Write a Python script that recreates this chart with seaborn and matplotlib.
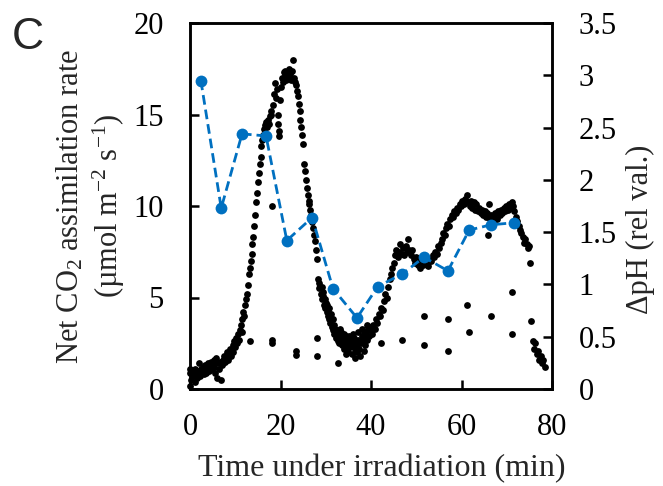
import numpy as np
import pandas as pd
import matplotlib
matplotlib.use("Agg")
import matplotlib.pyplot as plt
import seaborn as sns

# ---------------- data ----------------
# Net CO2 assimilation (black dots): time (min) and rate
seg_a_t = [0.0, 0.0, 0.0, 0.2, 0.4, 0.6, 0.8, 1.0, 1.2, 1.4, 1.6, 1.8, 2.0, 2.2, 2.4, 2.6, 2.8,
           3.0, 3.2, 3.4, 3.6, 3.8, 4.0, 4.2, 4.4, 4.6, 4.8, 5.0, 5.2, 5.4, 5.6, 5.8,
           6.0, 6.2, 6.4, 6.6, 6.8, 7.0, 7.2, 7.4, 7.6, 7.8, 8.0, 8.2, 8.4, 8.6, 8.8,
           9.0, 9.2, 9.4, 9.6, 9.8, 10.0]
seg_a_v = [0.9, 0.15, 1.1, 0.5, 1.0, 0.7, 0.9, 0.4, 1.1, 0.8, 0.6, 1.0, 1.4, 0.7, 1.1, 0.9, 1.2,
           0.8, 1.0, 1.3, 0.9, 1.1, 1.4, 1.0, 1.2, 1.5, 1.1, 1.3, 1.6, 1.2, 0.9, 1.7,
           0.6, 1.4, 1.1, 1.5, 0.5, 1.3, 1.6, 1.4, 1.8, 1.5, 1.7, 2.0, 1.6, 1.9, 2.2,
           1.8, 2.1, 2.4, 2.0, 2.6, 2.3]

seg_b_t = [10.2, 10.4, 10.6, 10.8, 11.0, 11.2, 11.4, 11.6, 11.8, 12.0, 12.2, 12.4, 12.6, 12.8,
           13.0, 13.2, 13.4, 13.6, 13.8, 14.0, 14.2, 14.4, 14.6, 14.8, 15.0, 15.2, 15.4, 15.6,
           15.8, 16.0, 16.2, 16.4, 16.6, 16.8, 17.0, 17.2, 17.4, 17.6, 17.8, 18.0, 18.3, 18.6,
           18.8, 19.0, 19.2, 19.4, 19.5, 19.6, 19.7, 19.9, 20.1, 20.3, 20.5, 20.7, 20.9, 21.1,
           21.3, 21.5, 21.7, 21.9, 22.1, 22.3, 22.5, 22.8, 23.0]
seg_b_v = [2.8, 2.5, 3.0, 2.7, 3.2, 3.5, 3.1, 3.8, 4.2, 4.0, 4.6, 4.9, 5.2, 5.7,
           6.3, 6.6, 7.0, 7.4, 7.9, 8.3, 8.9, 9.5, 10.2, 10.7, 11.3, 11.8, 12.3, 12.7,
           13.3, 13.6, 13.9, 14.2, 14.4, 14.6, 14.3, 14.7, 14.5, 14.9, 15.2, 15.0, 15.5, 16.1,
           16.7, 15.9, 16.4, 15.0, 14.5, 14.1, 13.8, 15.8, 16.5, 17.0, 16.8, 17.3, 17.1, 17.4,
           16.9, 17.3, 17.1, 17.5, 17.2, 16.9, 17.4, 18.0, 17.0]

seg_c_t = [23.2, 23.4, 23.6, 23.8, 24.0, 24.2, 24.4, 24.6, 24.8, 25.0, 25.2, 25.4, 25.6, 25.8,
           26.0, 26.2, 26.4, 26.6, 26.8, 27.0, 27.2, 27.4, 27.6, 27.8, 28.0, 28.2, 28.4, 28.6,
           28.8, 29.0, 29.2, 29.4, 29.6, 29.8, 30.0, 30.2, 30.4, 30.6, 30.8, 31.0, 31.2, 31.4,
           29.1, 29.5, 29.9, 30.3, 30.7, 31.1, 31.5, 31.9]
seg_c_v = [16.8, 16.6, 16.3, 16.0, 15.6, 15.2, 14.7, 14.3, 13.9, 13.4, 12.3, 11.9, 11.4, 11.0,
           10.6, 10.3, 10.1, 9.8, 9.5, 9.1, 8.8, 8.4, 8.1, 7.6, 7.1, 6.0, 5.8, 5.5,
           5.6, 5.2, 4.9, 5.1, 4.6, 4.4, 4.7, 4.2, 4.0, 4.3, 3.8, 3.6, 3.9, 3.4,
           5.6, 5.3, 4.9, 4.6, 4.4, 4.1, 3.8, 3.5]

seg_d_t = [31.6, 31.8, 32.0, 32.2, 32.4, 32.6, 32.8, 33.0, 33.2, 33.4, 33.6, 33.8, 34.0, 34.2,
           34.4, 34.6, 34.8, 35.0, 35.2, 35.4, 35.6, 35.8, 36.0, 36.2, 36.4, 36.6, 36.8, 37.0,
           37.2, 37.4, 37.6, 37.8, 38.0, 38.2, 38.4, 38.6, 38.8, 39.0, 39.2, 39.4, 39.6, 39.8,
           33.1, 34.1, 35.1, 36.1, 37.1, 38.1, 39.1, 34.5, 36.5, 38.5]
seg_d_v = [3.2, 3.0, 3.3, 2.8, 3.1, 2.6, 2.9, 2.5, 2.8, 3.1, 2.4, 2.7, 2.2, 2.6,
           2.9, 2.3, 2.5, 2.0, 2.7, 2.3, 2.5, 1.9, 2.4, 2.8, 2.2, 2.6, 2.0, 2.4,
           2.7, 2.2, 1.8, 2.5, 2.9, 2.6, 3.0, 2.4, 2.8, 3.1, 2.7, 3.3, 2.9, 3.4,
           3.3, 3.0, 2.9, 3.0, 3.1, 3.3, 3.5, 1.9, 1.7, 2.1]

seg_e_t = [39.9, 40.2, 40.5, 40.8, 41.1, 41.4, 41.7, 42.0, 42.3, 42.6, 42.9, 43.2, 43.5, 43.8,
           44.1, 44.4, 44.7, 45.0, 45.3, 45.6, 45.9, 46.2, 46.5, 46.8, 47.1, 47.4, 47.7, 48.0,
           48.2, 48.5, 48.8, 49.1, 49.4, 49.7, 50.0, 50.3, 50.6, 50.9, 51.2, 51.5, 51.8, 52.1,
           52.4, 52.7, 53.0, 53.3, 53.6, 53.9, 54.2, 54.5, 54.8, 55.1, 55.4, 55.7, 56.0, 56.3,
           56.6, 56.9, 57.2, 57.5, 57.8, 58.1, 58.4, 58.7, 59.0, 59.3, 59.6, 59.9, 60.2, 60.5,
           60.8, 61.2, 61.5]
seg_e_v = [3.2, 3.0, 3.5, 3.3, 3.8, 3.6, 4.1, 4.0, 4.4, 4.3, 4.8, 5.2, 5.0, 5.6,
           6.0, 6.3, 6.6, 6.9, 7.3, 7.6, 7.2, 7.5, 7.9, 7.4, 7.7, 7.3, 7.8, 7.5,
           8.2, 7.6, 7.3, 7.6, 7.1, 6.9, 7.2, 6.8, 7.0, 6.6, 7.1, 6.8, 7.2, 6.9,
           7.0, 6.7, 7.1, 7.0, 7.3, 7.2, 7.5, 7.4, 7.8, 7.7, 8.0, 8.2, 8.5, 8.4,
           8.8, 9.0, 8.9, 9.3, 9.5, 9.4, 9.7, 9.6, 9.9, 9.8, 10.1, 10.0, 10.3, 10.1,
           10.4, 10.6, 10.2]

seg_f_t = [61.8, 62.1, 62.4, 62.7, 63.0, 63.3, 63.6, 63.9, 64.2, 64.5, 64.8, 65.1, 65.4, 65.7,
           66.0, 66.3, 66.6, 66.9, 67.2, 67.5, 67.8, 68.1, 68.4, 68.7, 69.0, 69.3, 69.6, 69.9,
           70.2, 70.5, 70.8, 71.1, 71.4, 71.7, 72.0, 72.3, 72.6, 72.9, 73.2, 73.5, 73.8, 74.1,
           74.4, 74.7, 75.0, 75.8, 76.0, 76.3, 76.6, 76.9, 77.2, 77.5, 77.8, 78.1, 78.4]
seg_f_v = [10.0, 10.3, 9.9, 10.2, 9.8, 10.1, 9.7, 9.9, 9.6, 9.8, 9.5, 9.7, 9.4, 9.6,
           10.1, 9.3, 9.5, 9.2, 9.4, 9.6, 9.3, 9.7, 9.5, 9.8, 9.6, 9.9, 9.7, 10.0,
           9.8, 10.1, 9.9, 10.2, 10.0, 9.7, 9.4, 9.2, 8.9, 8.7, 8.5, 8.3, 8.0, 8.2,
           7.9, 7.7, 7.8, 2.6, 2.2, 2.5, 1.9, 2.1, 1.6, 1.8, 1.4, 1.6, 1.2]

# isolated low readings
outlier_t = [13.3, 18.1, 18.1, 18.1, 23.4, 23.4, 28.0, 28.0, 32.7, 42.3, 46.9, 51.7, 51.7,
             57.0, 57.0, 61.2, 61.7, 65.9, 66.5, 71.2, 71.2, 75.1, 75.4]
outlier_v = [2.6, 2.7, 2.5, 10.0, 2.1, 1.85, 2.8, 1.8, 1.4, 2.5, 2.7, 4.0, 2.4,
             3.8, 2.1, 4.6, 3.1, 8.4, 4.0, 5.3, 3.0, 6.9, 3.7]

# delta pH (blue dashed, right axis)
ph_time = [2.4, 6.9, 11.5, 16.8, 21.4, 27.0, 31.6, 36.9, 41.5, 46.9, 51.7, 57.0, 61.7, 66.5, 71.6]
ph_value = [2.95, 1.73, 2.44, 2.42, 1.42, 1.64, 0.96, 0.68, 0.98, 1.10, 1.26, 1.13, 1.52, 1.57, 1.59]

x_ticks = [0, 20, 40, 60, 80]
left_ticks = [0, 5, 10, 15, 20]
right_ticks = [0, 0.5, 1, 1.5, 2, 2.5, 3, 3.5]
right_tick_labels = ["0", "0.5", "1", "1.5", "2", "2.5", "3", "3.5"]

# ---------------- plot ----------------
sns.set_style("ticks")
plt.rcParams["font.family"] = ["Liberation Serif", "DejaVu Serif"]
plt.rcParams["mathtext.fontset"] = "custom"
plt.rcParams["mathtext.rm"] = "Liberation Serif"
plt.rcParams["mathtext.it"] = "Liberation Serif:italic"
plt.rcParams["mathtext.default"] = "regular"

co2 = pd.DataFrame({
    "t": seg_a_t + seg_b_t + seg_c_t + seg_d_t + seg_e_t + seg_f_t + outlier_t,
    "v": seg_a_v + seg_b_v + seg_c_v + seg_d_v + seg_e_v + seg_f_v + outlier_v,
})
ph = pd.DataFrame({"t": ph_time, "v": ph_value})

fig = plt.figure(figsize=(6.63, 4.86), dpi=100)
ax = fig.add_axes([190 / 663, 1 - 389 / 486, 362 / 663, 366 / 486])

sns.scatterplot(data=co2, x="t", y="v", ax=ax, color="black", s=24,
                linewidth=0, clip_on=False, zorder=3)

ax2 = ax.twinx()
blue = "#0070C0"
sns.lineplot(data=ph, x="t", y="v", ax=ax2, color=blue, sort=False, estimator=None,
             linestyle=(0, (3.5, 1.8)), linewidth=2.0, marker="o", markersize=8.5,
             markeredgewidth=0, zorder=4)

ax.set_xlim(0, 80)
ax.set_ylim(0, 20)
ax2.set_ylim(0, 3.5)
ax.set_xticks(x_ticks)
ax.set_yticks(left_ticks)
ax2.set_yticks(right_ticks)
ax2.set_yticklabels(right_tick_labels)

fs = 22
for a in (ax, ax2):
    for sp in a.spines.values():
        sp.set_linewidth(1.8)
        sp.set_color("black")
ax.tick_params(axis="both", direction="in", length=6.5, width=1.8, labelsize=fs,
               colors="black")
ax.tick_params(axis="y", pad=19)
ax.tick_params(axis="x", pad=17)
ax2.tick_params(axis="y", direction="in", length=6.5, width=1.8, labelsize=fs, pad=19,
                colors="black")

ax.set_xlabel("Time under irradiation (min)", fontsize=23)
ax.xaxis.set_label_coords(0.53, -0.178)
ax.set_ylabel("Net CO$_2$ assimilation rate\n(µmol m$^{-2}$ s$^{-1}$)", fontsize=fs,
              linespacing=1.2)
ax.yaxis.set_label_coords(-0.175, 0.5)
ax2.set_ylabel("ΔpH (rel val.)", fontsize=fs)
ax2.yaxis.set_label_coords(1.205, 0.437)

fig.text(12 / 663, 1 - 49 / 486, "C", fontsize=32, family="Liberation Sans",
         va="baseline", ha="left")

fig.savefig("out.png", dpi=100)
